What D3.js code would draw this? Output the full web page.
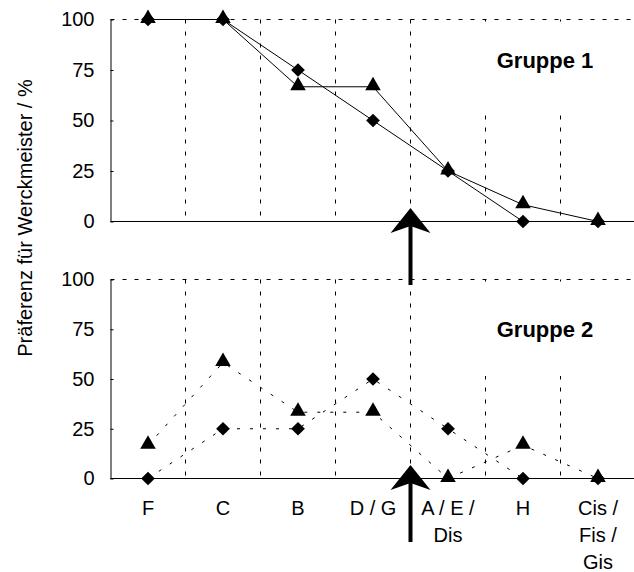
<!DOCTYPE html>
<html>
<head>
<meta charset="utf-8">
<script src="https://cdn.jsdelivr.net/npm/d3@7"></script>
<style>
  body { margin: 0; background: #fff; }
  svg { display: block; font-family: "Liberation Sans", Arial, sans-serif; }
</style>
</head>
<body>
<svg id="chart" width="634" height="572"></svg>
<script>
// categories (multi-line labels)
const categories = ['F', 'C', 'B', 'D / G', 'A / E / Dis', 'H', 'Cis / Fis / Gis']
const categoryLines = [['F'], ['C'], ['B'], ['D / G'], ['A / E /', 'Dis'], ['H'], ['Cis /', 'Fis /', 'Gis']]
const yTicks = [0, 25, 50, 75, 100]

// Gruppe 1
const g1Diamond = [100, 100, 75, 50, 25, 0, 0]
const g1Triangle = [100, 100, 66.7, 66.7, 25, 8.3, 0]
// Gruppe 2
const g2Diamond = [0, 25, 25, 50, 25, 0, 0]
const g2Triangle = [16.7, 58.3, 33.3, 33.3, 0, 16.7, 0]

const arrowCategory = 'A / E / Dis' // arrow sits on left edge of this band

const svg = d3.select('#chart')

const x = d3.scaleBand().domain(categories).range([110.5, 635.5])

const panels = [
  { top: 19.5, bottom: 221.5, title: 'Gruppe 1', titleY: 68, dash: null, series: [g1Diamond, g1Triangle], boxBottom: 114 },
  { top: 279.5, bottom: 478.5, title: 'Gruppe 2', titleY: 337, dash: '3,10', series: [g2Diamond, g2Triangle], boxBottom: 376 },
]

const diamond = d3.symbol().type(d3.symbolDiamond2).size(120)
const triangle = d3.symbol().type(d3.symbolTriangle).size(105)

panels.forEach((p, pi) => {
  const y = d3.scaleLinear().domain([0, 100]).range([p.bottom, p.top])
  const g = svg.append('g')

  // vertical dashed gridlines between categories
  g.selectAll('.grid')
    .data(categories.slice(1))
    .join('line')
    .attr('x1', d => x(d)).attr('x2', d => x(d))
    .attr('y1', p.top).attr('y2', p.bottom)
    .attr('stroke', '#000').attr('stroke-width', 1)
    .attr('stroke-dasharray', '4,8')

  // top dashed border at 100
  g.append('line')
    .attr('x1', x.range()[0]).attr('x2', 634)
    .attr('y1', y(100)).attr('y2', y(100))
    .attr('stroke', '#000').attr('stroke-dasharray', '4,8')

  // white box behind the title
  g.append('rect')
    .attr('x', 470).attr('y', p.top + 2)
    .attr('width', 160).attr('height', p.boxBottom - p.top - 2)
    .attr('fill', '#fff')

  g.append('text')
    .attr('x', 545).attr('y', p.titleY)
    .attr('text-anchor', 'middle')
    .attr('font-size', 22).attr('font-weight', 'bold')
    .text(p.title)

  // axes
  const yAxis = d3.axisLeft(y).tickValues(yTicks).tickSizeInner(-3).tickSizeOuter(0).tickPadding(16)
  const ya = g.append('g').attr('transform', `translate(${x.range()[0]},0)`).call(yAxis)
  ya.selectAll('text').attr('font-size', 20).attr('fill', '#000').attr('font-family', 'Liberation Sans, Arial, sans-serif')
  ya.selectAll('path, line').attr('stroke', '#000')

  g.append('line')
    .attr('x1', x.range()[0]).attr('x2', 634)
    .attr('y1', p.bottom).attr('y2', p.bottom)
    .attr('stroke', '#000').attr('stroke-width', 1.2)

  // lines
  const line = d3.line().x((d, i) => x(categories[i]) + x.bandwidth() / 2).y(d => y(d))
  p.series.forEach(s => {
    g.append('path')
      .attr('d', line(s))
      .attr('fill', 'none')
      .attr('stroke', '#000')
      .attr('stroke-width', 1)
      .attr('stroke-dasharray', p.dash)
  })

  // markers
  g.selectAll('.dia')
    .data(p.series[0])
    .join('path')
    .attr('d', diamond)
    .attr('transform', (d, i) => `translate(${x(categories[i]) + x.bandwidth() / 2},${y(d)})`)
    .attr('fill', '#000')
  g.selectAll('.tri')
    .data(p.series[1])
    .join('path')
    .attr('d', triangle)
    .attr('transform', (d, i) => `translate(${x(categories[i]) + x.bandwidth() / 2},${y(d) - 1})`)
    .attr('fill', '#000')

  // arrow
  const ax = x(arrowCategory)
  const tip = p.bottom - 13.5
  const arrow = svg.append('g')
  arrow.append('line')
    .attr('x1', ax).attr('x2', ax)
    .attr('y1', tip + 15).attr('y2', tip + 77)
    .attr('stroke', '#000').attr('stroke-width', 4)
  arrow.append('path')
    .attr('d', `M${ax},${tip} L${ax + 20},${tip + 25} L${ax},${tip + 18} L${ax - 20},${tip + 25} Z`)
    .attr('fill', '#000')
})

// category labels
const lastBottom = panels[1].bottom
const labels = svg.append('g')
  .selectAll('text')
  .data(categories)
  .join('text')
  .attr('x', d => x(d) + x.bandwidth() / 2)
  .attr('y', lastBottom + 36.5)
  .attr('text-anchor', 'middle')
  .attr('font-size', 20)
labels.selectAll('tspan')
  .data((d, i) => categoryLines[i])
  .join('tspan')
  .attr('x', function () { return this.parentNode.getAttribute('x') })
  .attr('dy', (d, i) => i === 0 ? 0 : 27)
  .text(d => d)

// y axis title
svg.append('text')
  .attr('transform', 'translate(32,218) rotate(-90)')
  .attr('text-anchor', 'middle')
  .attr('font-size', 20)
  .text('Präferenz für Werckmeister / %')
</script>
</body>
</html>
